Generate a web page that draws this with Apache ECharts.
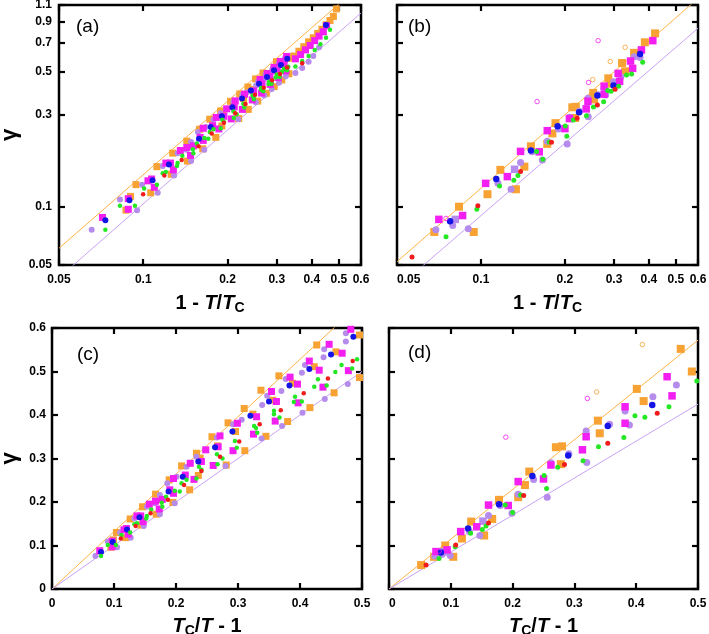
<!DOCTYPE html>
<html><head><meta charset="utf-8">
<script src="https://cdn.jsdelivr.net/npm/echarts@6/dist/echarts.min.js"></script>
<style>html,body{margin:0;padding:0;background:#fff}#c{width:709px;height:634px}</style>
</head><body><div id="c"></div>
<script>
// ---- data: x = Tc/T - 1 , y = gamma ----
// Data set A (panels a, c)
const aOrange = [[0.095,0.096],[0.099,0.113],[0.104,0.13],[0.119,0.118],[0.126,0.161],[0.144,0.147],[0.146,0.189],[0.167,0.218],[0.168,0.172],[0.189,0.251],[0.195,0.199],[0.209,0.283],[0.222,0.228],[0.233,0.312],[0.236,0.261],[0.239,0.301],[0.258,0.35],[0.267,0.329],[0.281,0.285],[0.284,0.382],[0.296,0.362],[0.31,0.415],[0.311,0.318],[0.324,0.402],[0.337,0.457],[0.345,0.351],[0.356,0.434],[0.366,0.49],[0.38,0.385],[0.388,0.473],[0.416,0.417],[0.423,0.511],[0.427,0.561],[0.455,0.451],[0.458,0.545],[0.496,0.584],[0.496,0.486],[0.527,0.6],[0.5625,0.635],[0.6,0.67],[0.639,0.71],[0.681,0.745],[0.724,0.785],[0.77,0.825],[0.818,0.87],[0.869,0.915],[0.916,0.96],[0.961,1.05]];
const aMagenta = [[0.077,0.088],[0.097,0.11],[0.097,0.097],[0.116,0.136],[0.12,0.139],[0.123,0.126],[0.137,0.168],[0.143,0.168],[0.147,0.155],[0.157,0.195],[0.167,0.202],[0.173,0.184],[0.178,0.206],[0.19,0.228],[0.196,0.22],[0.196,0.254],[0.215,0.262],[0.223,0.289],[0.229,0.252],[0.241,0.293],[0.248,0.32],[0.26,0.284],[0.268,0.327],[0.271,0.352],[0.292,0.318],[0.299,0.381],[0.325,0.356],[0.33,0.396],[0.354,0.454],[0.36,0.386],[0.362,0.431],[0.384,0.487],[0.396,0.471],[0.397,0.428],[0.415,0.524],[0.431,0.503],[0.437,0.464],[0.447,0.5625],[0.468,0.542],[0.478,0.502],[0.482,0.597],[0.538,0.58],[0.575,0.61],[0.613,0.645],[0.653,0.68],[0.695,0.72],[0.739,0.76],[0.786,0.8],[0.825,0.86]];
const aPurple = [[0.07,0.076],[0.09,0.109],[0.105,0.096],[0.11,0.13],[0.127,0.118],[0.133,0.162],[0.148,0.145],[0.153,0.189],[0.166,0.197],[0.174,0.216],[0.174,0.172],[0.186,0.243],[0.198,0.197],[0.201,0.258],[0.217,0.281],[0.233,0.304],[0.247,0.32],[0.266,0.348],[0.28,0.283],[0.292,0.379],[0.306,0.389],[0.338,0.346],[0.339,0.423],[0.347,0.444],[0.37,0.455],[0.371,0.375],[0.377,0.483],[0.403,0.497],[0.404,0.405],[0.408,0.515],[0.438,0.533],[0.439,0.551],[0.44,0.437],[0.474,0.569],[0.474,0.588],[0.477,0.471],[0.538,0.49],[0.587,0.52],[0.639,0.56],[0.681,0.6],[0.739,0.665]];
const aBlue = [[0.079,0.085],[0.098,0.108],[0.121,0.137],[0.141,0.165],[0.188,0.224],[0.211,0.258],[0.236,0.293],[0.263,0.326],[0.291,0.362],[0.32,0.398],[0.35,0.431],[0.383,0.468],[0.415,0.506],[0.45,0.539],[0.486,0.58],[0.818,0.867]];
const aGreen = [[0.079,0.076],[0.09,0.101],[0.103,0.101],[0.112,0.124],[0.126,0.13],[0.133,0.149],[0.137,0.151],[0.152,0.162],[0.153,0.168],[0.16,0.183],[0.177,0.198],[0.178,0.189],[0.184,0.212],[0.198,0.226],[0.206,0.224],[0.209,0.243],[0.217,0.251],[0.233,0.254],[0.237,0.281],[0.241,0.274],[0.266,0.31],[0.267,0.287],[0.275,0.3],[0.295,0.34],[0.298,0.325],[0.326,0.375],[0.329,0.37],[0.331,0.359],[0.358,0.41],[0.358,0.402],[0.367,0.394],[0.39,0.43],[0.392,0.442],[0.403,0.431],[0.423,0.465],[0.429,0.482],[0.443,0.468],[0.457,0.499],[0.467,0.515],[0.484,0.507],[0.492,0.528],[0.538,0.53],[0.587,0.565],[0.639,0.6],[0.695,0.645],[0.754,0.69],[0.818,0.745],[0.869,0.82]];
const aRed = [[0.111,0.116],[0.135,0.145],[0.159,0.174],[0.187,0.205],[0.213,0.239],[0.241,0.271],[0.271,0.304],[0.302,0.339],[0.335,0.379],[0.369,0.411],[0.406,0.45],[0.445,0.484],[0.485,0.524],[0.587,0.55]];
// Data set B (panels b, d)
const bOrange = [[0.052,0.055],[0.073,0.074],[0.091,0.1],[0.104,0.074],[0.118,0.116],[0.133,0.155],[0.154,0.123],[0.167,0.161],[0.178,0.205],[0.209,0.211],[0.22,0.239],[0.227,0.27],[0.27,0.326],[0.28,0.328],[0.278,0.287],[0.338,0.387],[0.341,0.358],[0.401,0.46],[0.412,0.432],[0.472,0.552],[0.49,0.5],[0.548,0.623],[0.631,0.706],[0.727,0.785]];
const bMagenta = [[0.076,0.086],[0.094,0.09],[0.116,0.132],[0.142,0.143],[0.161,0.193],[0.193,0.192],[0.209,0.247],[0.25,0.253],[0.262,0.285],[0.313,0.32],[0.319,0.35],[0.382,0.419],[0.382,0.381],[0.45,0.488],[0.458,0.444],[0.524,0.565],[0.538,0.518],[0.603,0.645],[0.704,0.72]];
const bPurpleSq = [[0.088,0.086],[0.152,0.156]];
const bPurple = [[0.074,0.076],[0.086,0.08],[0.099,0.077],[0.13,0.132],[0.147,0.123],[0.161,0.169],[0.18,0.192],[0.199,0.174],[0.209,0.218],[0.234,0.252],[0.256,0.211],[0.262,0.29],[0.291,0.311],[0.32,0.291],[0.319,0.363],[0.357,0.379],[0.382,0.409],[0.389,0.377],[0.427,0.442],[0.465,0.469],[0.548,0.594],[0.592,0.59]];
const bBlue = [[0.084,0.084],[0.128,0.139],[0.178,0.195],[0.232,0.26],[0.29,0.307],[0.354,0.375],[0.426,0.423],[0.592,0.614]];
const bGreen = [[0.081,0.07],[0.107,0.097],[0.132,0.128],[0.151,0.137],[0.157,0.145],[0.188,0.193],[0.2,0.176],[0.213,0.216],[0.251,0.261],[0.255,0.231],[0.273,0.28],[0.314,0.295],[0.339,0.327],[0.38,0.348],[0.398,0.398],[0.414,0.395],[0.453,0.419],[0.498,0.478],[0.531,0.484],[0.613,0.557]];
const bRed = [[0.06,0.055],[0.108,0.101],[0.161,0.152],[0.218,0.215],[0.284,0.286],[0.354,0.335],[0.434,0.404]];
const bHollowMagenta = [[0.081,0.087],[0.189,0.349],[0.321,0.438],[0.357,0.72]];
const bHollowOrange = [[0.336,0.453],[0.41,0.562],[0.49,0.665]];
// fitted lines: log panels use t = 1 - T/Tc ; linear panels use Tc/T - 1
const fitAOrange = [[0.05,0.061],[0.6,1.4]];
const fitALavender = [[0.05,0.043],[0.6,1.0]];
const fitBOrange = [[0.05,0.052],[0.6,1.19]];
const fitBLavender = [[0.05,0.038],[0.6,0.834]];
const fitCOrange = [[0,0],[0.5,0.66]];
const fitCLavender = [[0,0],[0.5,0.5]];
const fitDOrange = [[0,0],[0.5,0.572]];
const fitDLavender = [[0,0],[0.5,0.425]];
// tick labels
const logXTicks = [0.05,0.1,0.2,0.3,0.4,0.5,0.6];
const logYTicks = [0.05,0.1,0.3,0.5,0.7,0.9,1.1];
const panelLabels = ['(a)','(b)','(c)','(d)'];

// ---- chart ----
const FONT = '"Liberation Sans", Arial, sans-serif';
const L = Math.log10;
const toT = x => x / (1 + x);
const fmt = v => String(Math.round(v * 100) / 100);
const C = {orange:'#f7a233', magenta:'#f21ef2', purple:'#b58beb', blue:'#1414e6', green:'#25e825', red:'#f01c1c', lineO:'#ffb347', lineL:'#c7a3f5'};

const grids = [
  {left:59, top:5, width:302, height:260},
  {left:397, top:5, width:301, height:260},
  {left:52, top:328, width:310, height:261},
  {left:389, top:328, width:309, height:261}
].map(g => Object.assign(g, {show:true, borderColor:'#000', borderWidth:2.5, backgroundColor:'transparent', containLabel:false, outerBoundsMode:'none'}));

const labelStyle = {fontFamily:FONT, fontWeight:'bold', fontSize:12, color:'#000'};
const tickStyle = {show:true, inside:true, length:6, lineStyle:{color:'#000', width:2.2}};
const richName = {
  n:{fontFamily:FONT, fontWeight:'bold', fontSize:20, color:'#000'},
  i:{fontFamily:FONT, fontWeight:'bold', fontStyle:'italic', fontSize:20, color:'#000'},
  s:{fontFamily:FONT, fontWeight:'bold', fontSize:14, color:'#000', padding:[10,0,0,0], verticalAlign:'bottom'}
};
const nameT = '{n|1 - }{i|T}{n|/}{i|T}{s|C}';
const nameC = '{i|T}{s|C}{n|/}{i|T}{n| - 1}';

const xAxes = [], yAxes = [];
function addAxes(g, isLog, showY, linMaxY) {
  const xt = isLog ? logXTicks.map(L) : null;
  const yt = isLog ? logYTicks.map(L) : null;
  const xBase = isLog ? {type:'value', min:L(0.05), max:L(0.6)} : {type:'value', min:0, max:0.5, interval:0.1};
  const yBase = isLog ? {type:'value', min:L(0.05), max:L(1.1)} : {type:'value', min:0, max:linMaxY, interval:0.1};
  const xFmt = isLog ? (v => fmt(Math.pow(10, v))) : (v => fmt(v));
  const yFmt = xFmt;
  ['bottom','top'].forEach((pos, k) => {
    xAxes.push(Object.assign({}, xBase, {
      gridIndex:g, position:pos, axisLine:{show:false, onZero:false}, splitLine:{show:false},
      axisTick:Object.assign({}, tickStyle, isLog ? {customValues:xt} : {}),
      axisLabel:Object.assign({}, labelStyle, {show:k === 0, margin:9, formatter:xFmt,
        alignMinLabel:(g === 1 || g === 3) ? 'left' : 'center'}, isLog ? {customValues:xt} : {}),
      name:k === 0 ? (isLog ? nameT : nameC) : '', nameLocation:'middle', nameGap:isLog ? 26 : 25,
      nameTextStyle:{rich:richName}
    }));
  });
  ['left','right'].forEach((pos, k) => {
    yAxes.push(Object.assign({}, yBase, {
      gridIndex:g, position:pos, axisLine:{show:false, onZero:false}, splitLine:{show:false},
      axisTick:Object.assign({}, tickStyle, isLog ? {customValues:yt} : {}),
      axisLabel:Object.assign({}, labelStyle, {show:k === 0 && showY, margin:isLog ? 7 : 6, formatter:yFmt}, isLog ? {customValues:yt} : {}),
      name:(k === 0 && showY) ? 'γ' : '', nameLocation:'middle', nameRotate:90, nameGap:isLog ? 38 : 31,
      nameTextStyle:{fontFamily:FONT, fontWeight:'bold', fontSize:22, color:'#000'}
    }));
  });
}
addAxes(0, true, true);
addAxes(1, true, false);
addAxes(2, false, true, 0.6);
addAxes(3, false, false, 0.6);

const series = [];
function mapData(arr, isLog) {
  return isLog ? arr.map(p => [L(toT(p[0])), L(p[1])]) : arr.map(p => [p[0], p[1]]);
}
function mapFit(arr, isLog) {
  return isLog ? arr.map(p => [L(p[0]), L(p[1])]) : arr.map(p => [p[0], p[1]]);
}
function addLine(g, arr, color, isLog) {
  series.push({type:'line', xAxisIndex:2*g, yAxisIndex:2*g, data:mapFit(arr, isLog), symbol:'none',
    lineStyle:{color, width:1}, clip:true, silent:true, z:1});
}
function addScatter(g, arr, isLog, symbol, size, color, hollow) {
  series.push({type:'scatter', xAxisIndex:2*g, yAxisIndex:2*g, data:mapData(arr, isLog), symbol, symbolSize:size,
    clip:true, z:2,
    itemStyle: hollow ? {color:'rgba(255,255,255,0)', borderColor:color, borderWidth:1} : {color, opacity:1}});
}
// panel a, c : data set A
[[0, true], [2, false]].forEach(([g, lg]) => {
  if (lg) { addLine(g, fitAOrange, C.lineO, lg); addLine(g, fitALavender, C.lineL, lg); }
  else { addLine(g, fitCOrange, C.lineO, lg); addLine(g, fitCLavender, C.lineL, lg); }
  addScatter(g, aOrange, lg, 'rect', 7, C.orange);
  addScatter(g, aPurple, lg, 'circle', 6, C.purple);
  addScatter(g, aMagenta, lg, 'rect', 7, C.magenta);
  addScatter(g, aBlue, lg, 'circle', 6, C.blue);
  addScatter(g, aGreen, lg, 'circle', 4.5, C.green);
  addScatter(g, aRed, lg, 'circle', 4.5, C.red);
});
// panel b, d : data set B
[[1, true], [3, false]].forEach(([g, lg]) => {
  if (lg) { addLine(g, fitBOrange, C.lineO, lg); addLine(g, fitBLavender, C.lineL, lg); }
  else { addLine(g, fitDOrange, C.lineO, lg); addLine(g, fitDLavender, C.lineL, lg); }
  addScatter(g, bOrange, lg, 'rect', 8, C.orange);
  addScatter(g, bPurple, lg, 'circle', 7, C.purple);
  addScatter(g, bPurpleSq, lg, 'rect', 7.5, C.purple);
  addScatter(g, bMagenta, lg, 'rect', 7.5, C.magenta);
  addScatter(g, bBlue, lg, 'circle', 6.5, C.blue);
  addScatter(g, bGreen, lg, 'circle', 5, C.green);
  addScatter(g, bRed, lg, 'circle', 5, C.red);
  addScatter(g, bHollowMagenta, lg, 'circle', 4.5, C.magenta, true);
  addScatter(g, bHollowOrange, lg, 'circle', 4.5, C.orange, true);
});

const labelPos = [[76,27],[408,27],[77,355],[408,353]];
const graphic = panelLabels.map((t, i) => ({type:'text', x:labelPos[i][0], y:labelPos[i][1],
  style:{text:t, fill:'#000', font:'19px ' + FONT, verticalAlign:'middle', align:'left'}}));

const chart = echarts.init(document.getElementById('c'), null, {renderer:'canvas'});
chart.setOption({animation:false, backgroundColor:'#fff', grid:grids, xAxis:xAxes, yAxis:yAxes, series, graphic});
</script></body></html>
